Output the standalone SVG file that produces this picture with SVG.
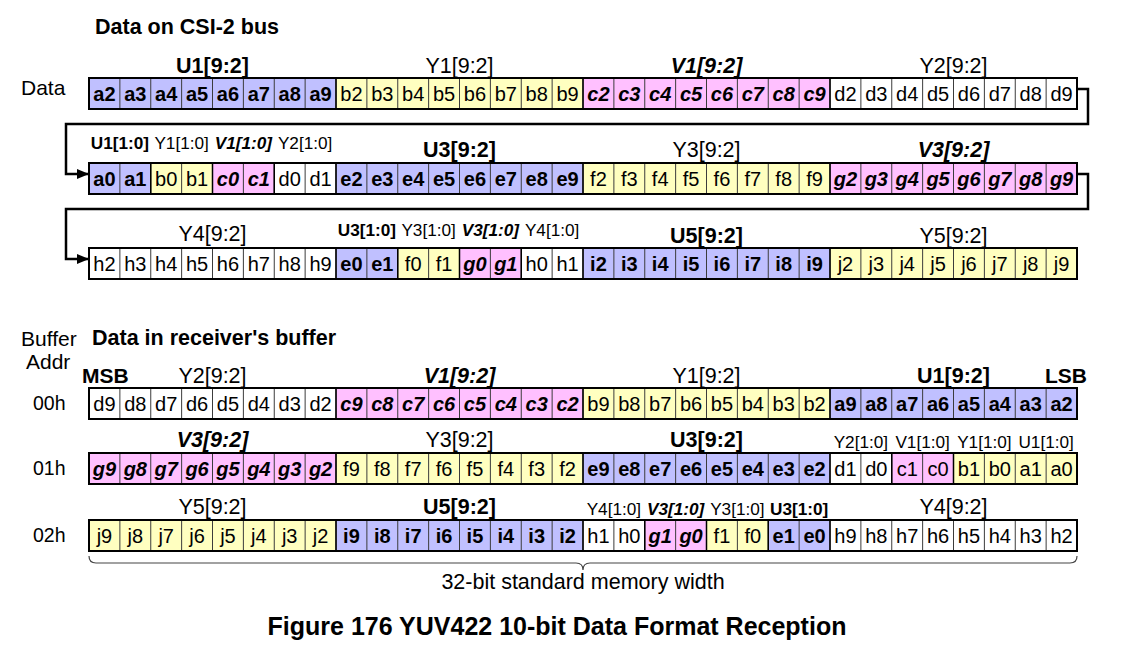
<svg xmlns="http://www.w3.org/2000/svg" xmlns:xlink="http://www.w3.org/1999/xlink" width="1128" height="669" viewBox="0 0 1128 669">
<style>
text { font-family: "Liberation Sans", Arial, sans-serif; fill:#000; }
.c text { font-size:20px; text-anchor:middle; }
.n { font-weight:normal; font-style:normal; }
.b { font-weight:bold; }
.bi { font-weight:bold; font-style:italic; }
.c text.lab { font-size:21.5px; }
.c text.sm { font-size:17.2px; }
.side { font-size:21px; }
.addr { font-size:19.5px; }
.blue { fill:#C0C0FF; }
.yel { fill:#FFFFC0; }
.pink { fill:#FFC0FF; }
.wht { fill:#FFFFFF; }
.grid { fill:none; stroke:#3c3c3c; stroke-width:1; }
.sep { fill:none; stroke:#000; stroke-width:1.5; }
.frame { fill:none; stroke:#000; stroke-width:2; }
.conn { fill:none; stroke:#000; stroke-width:2.5; }
.brace { fill:none; stroke:#444; stroke-width:1.2; }
</style>
<defs>
<marker id="arr" viewBox="0 0 12 10" refX="12" refY="5" markerWidth="12" markerHeight="10" markerUnits="userSpaceOnUse" orient="auto">
<path d="M0,0L12,5L0,10z" fill="#000"/>
</marker>
<path id="grid" class="grid" d="M30.875,0v31M61.75,0v31M92.625,0v31M123.5,0v31M154.375,0v31M185.25,0v31M216.125,0v31M247,0v31M277.875,0v31M308.75,0v31M339.625,0v31M370.5,0v31M401.375,0v31M432.25,0v31M463.125,0v31M494,0v31M524.875,0v31M555.75,0v31M586.625,0v31M617.5,0v31M648.375,0v31M679.25,0v31M710.125,0v31M741,0v31M771.875,0v31M802.75,0v31M833.625,0v31M864.5,0v31M895.375,0v31M926.25,0v31M957.125,0v31"/>
</defs>

<rect width="1128" height="669" fill="#fff"/>

<g id="titles">
<text x="95" y="34" class="b" font-size="21.5">Data on CSI-2 bus</text>
<text x="92" y="345" class="b" font-size="21.5">Data in receiver's buffer</text>
<text x="21" y="95" class="side">Data</text>
<text x="21" y="346" class="side">Buffer</text>
<text x="26" y="369" class="side">Addr</text>
<text x="33" y="410" class="addr">00h</text>
<text x="33" y="475" class="addr">01h</text>
<text x="33" y="542" class="addr">02h</text>
<text x="82" y="383" class="b" font-size="21">MSB</text>
<text x="1087" y="383" class="b" font-size="21" text-anchor="end">LSB</text>
</g>

<g id="connectors">
<path class="conn" d="M1077,89H1088V124H66V174H89" marker-end="url(#arr)"/>
<path class="conn" d="M1077,174H1088V209H66V259H89" marker-end="url(#arr)"/>
</g>

<!-- CSI row 1 -->
<g id="csi-row1" class="c" transform="translate(89,78)">
<rect x="0" width="247" height="31" class="blue"/>
<rect x="247" width="247" height="31" class="yel"/>
<rect x="494" width="247" height="31" class="pink"/>
<rect x="741" width="247" height="31" class="wht"/>
<use xlink:href="#grid"/>
<path class="sep" d="M247,0v31M494,0v31M741,0v31"/>
<rect width="988" height="31" class="frame"/>
<g class="b"><text x="15.44" y="22.5">a2</text><text x="46.31" y="22.5">a3</text><text x="77.19" y="22.5">a4</text><text x="108.06" y="22.5">a5</text><text x="138.94" y="22.5">a6</text><text x="169.81" y="22.5">a7</text><text x="200.69" y="22.5">a8</text><text x="231.56" y="22.5">a9</text></g>
<g class="n" transform="translate(247,0)"><text x="15.44" y="22.5">b2</text><text x="46.31" y="22.5">b3</text><text x="77.19" y="22.5">b4</text><text x="108.06" y="22.5">b5</text><text x="138.94" y="22.5">b6</text><text x="169.81" y="22.5">b7</text><text x="200.69" y="22.5">b8</text><text x="231.56" y="22.5">b9</text></g>
<g class="bi" transform="translate(494,0)"><text x="15.44" y="22.5">c2</text><text x="46.31" y="22.5">c3</text><text x="77.19" y="22.5">c4</text><text x="108.06" y="22.5">c5</text><text x="138.94" y="22.5">c6</text><text x="169.81" y="22.5">c7</text><text x="200.69" y="22.5">c8</text><text x="231.56" y="22.5">c9</text></g>
<g class="n" transform="translate(741,0)"><text x="15.44" y="22.5">d2</text><text x="46.31" y="22.5">d3</text><text x="77.19" y="22.5">d4</text><text x="108.06" y="22.5">d5</text><text x="138.94" y="22.5">d6</text><text x="169.81" y="22.5">d7</text><text x="200.69" y="22.5">d8</text><text x="231.56" y="22.5">d9</text></g>
<text x="123.5" y="-5" class="lab b">U1[9:2]</text>
<text x="370.5" y="-5" class="lab n">Y1[9:2]</text>
<text x="617.5" y="-5" class="lab bi">V1[9:2]</text>
<text x="864.5" y="-5" class="lab n">Y2[9:2]</text>
</g>

<!-- CSI row 2 -->
<g id="csi-row2" class="c" transform="translate(89,163)">
<rect x="0" width="61.75" height="31" class="blue"/>
<rect x="61.75" width="61.75" height="31" class="yel"/>
<rect x="123.5" width="61.75" height="31" class="pink"/>
<rect x="185.25" width="61.75" height="31" class="wht"/>
<rect x="247" width="247" height="31" class="blue"/>
<rect x="494" width="247" height="31" class="yel"/>
<rect x="741" width="247" height="31" class="pink"/>
<use xlink:href="#grid"/>
<path class="sep" d="M61.75,0v31M123.5,0v31M185.25,0v31M247,0v31M494,0v31M741,0v31"/>
<rect width="988" height="31" class="frame"/>
<text x="15.44" y="22.5" class="b">a0</text><text x="46.31" y="22.5" class="b">a1</text><text x="77.19" y="22.5" class="n">b0</text><text x="108.06" y="22.5" class="n">b1</text><text x="138.94" y="22.5" class="bi">c0</text><text x="169.81" y="22.5" class="bi">c1</text><text x="200.69" y="22.5" class="n">d0</text><text x="231.56" y="22.5" class="n">d1</text>
<g class="b" transform="translate(247,0)"><text x="15.44" y="22.5">e2</text><text x="46.31" y="22.5">e3</text><text x="77.19" y="22.5">e4</text><text x="108.06" y="22.5">e5</text><text x="138.94" y="22.5">e6</text><text x="169.81" y="22.5">e7</text><text x="200.69" y="22.5">e8</text><text x="231.56" y="22.5">e9</text></g>
<g class="n" transform="translate(494,0)"><text x="15.44" y="22.5">f2</text><text x="46.31" y="22.5">f3</text><text x="77.19" y="22.5">f4</text><text x="108.06" y="22.5">f5</text><text x="138.94" y="22.5">f6</text><text x="169.81" y="22.5">f7</text><text x="200.69" y="22.5">f8</text><text x="231.56" y="22.5">f9</text></g>
<g class="bi" transform="translate(741,0)"><text x="15.44" y="22.5">g2</text><text x="46.31" y="22.5">g3</text><text x="77.19" y="22.5">g4</text><text x="108.06" y="22.5">g5</text><text x="138.94" y="22.5">g6</text><text x="169.81" y="22.5">g7</text><text x="200.69" y="22.5">g8</text><text x="231.56" y="22.5">g9</text></g>
<text x="30.875" y="-14" class="sm b">U1[1:0]</text>
<text x="92.625" y="-14" class="sm n">Y1[1:0]</text>
<text x="154.375" y="-14" class="sm bi">V1[1:0]</text>
<text x="216.125" y="-14" class="sm n">Y2[1:0]</text>
<text x="370.5" y="-6" class="lab b">U3[9:2]</text>
<text x="617.5" y="-6" class="lab n">Y3[9:2]</text>
<text x="864.5" y="-6" class="lab bi">V3[9:2]</text>
</g>

<!-- CSI row 3 -->
<g id="csi-row3" class="c" transform="translate(89,248)">
<rect x="0" width="247" height="31" class="wht"/>
<rect x="247" width="61.75" height="31" class="blue"/>
<rect x="308.75" width="61.75" height="31" class="yel"/>
<rect x="370.5" width="61.75" height="31" class="pink"/>
<rect x="432.25" width="61.75" height="31" class="wht"/>
<rect x="494" width="247" height="31" class="blue"/>
<rect x="741" width="247" height="31" class="yel"/>
<use xlink:href="#grid"/>
<path class="sep" d="M247,0v31M308.75,0v31M370.5,0v31M432.25,0v31M494,0v31M741,0v31"/>
<rect width="988" height="31" class="frame"/>
<g class="n"><text x="15.44" y="22.5">h2</text><text x="46.31" y="22.5">h3</text><text x="77.19" y="22.5">h4</text><text x="108.06" y="22.5">h5</text><text x="138.94" y="22.5">h6</text><text x="169.81" y="22.5">h7</text><text x="200.69" y="22.5">h8</text><text x="231.56" y="22.5">h9</text></g>
<g transform="translate(247,0)"><text x="15.44" y="22.5" class="b">e0</text><text x="46.31" y="22.5" class="b">e1</text><text x="77.19" y="22.5" class="n">f0</text><text x="108.06" y="22.5" class="n">f1</text><text x="138.94" y="22.5" class="bi">g0</text><text x="169.81" y="22.5" class="bi">g1</text><text x="200.69" y="22.5" class="n">h0</text><text x="231.56" y="22.5" class="n">h1</text></g>
<g class="b" transform="translate(494,0)"><text x="15.44" y="22.5">i2</text><text x="46.31" y="22.5">i3</text><text x="77.19" y="22.5">i4</text><text x="108.06" y="22.5">i5</text><text x="138.94" y="22.5">i6</text><text x="169.81" y="22.5">i7</text><text x="200.69" y="22.5">i8</text><text x="231.56" y="22.5">i9</text></g>
<g class="n" transform="translate(741,0)"><text x="15.44" y="22.5">j2</text><text x="46.31" y="22.5">j3</text><text x="77.19" y="22.5">j4</text><text x="108.06" y="22.5">j5</text><text x="138.94" y="22.5">j6</text><text x="169.81" y="22.5">j7</text><text x="200.69" y="22.5">j8</text><text x="231.56" y="22.5">j9</text></g>
<text x="123.5" y="-7" class="lab n">Y4[9:2]</text>
<text x="277.875" y="-12" class="sm b">U3[1:0]</text>
<text x="339.625" y="-12" class="sm n">Y3[1:0]</text>
<text x="401.375" y="-12" class="sm bi">V3[1:0]</text>
<text x="463.125" y="-12" class="sm n">Y4[1:0]</text>
<text x="617.5" y="-5" class="lab b">U5[9:2]</text>
<text x="864.5" y="-5" class="lab n">Y5[9:2]</text>
</g>

<!-- Buffer 00h -->
<g id="buf-00h" class="c" transform="translate(89,388)">
<rect x="0" width="247" height="31" class="wht"/>
<rect x="247" width="247" height="31" class="pink"/>
<rect x="494" width="247" height="31" class="yel"/>
<rect x="741" width="247" height="31" class="blue"/>
<use xlink:href="#grid"/>
<path class="sep" d="M247,0v31M494,0v31M741,0v31"/>
<rect width="988" height="31" class="frame"/>
<g class="n"><text x="15.44" y="22.5">d9</text><text x="46.31" y="22.5">d8</text><text x="77.19" y="22.5">d7</text><text x="108.06" y="22.5">d6</text><text x="138.94" y="22.5">d5</text><text x="169.81" y="22.5">d4</text><text x="200.69" y="22.5">d3</text><text x="231.56" y="22.5">d2</text></g>
<g class="bi" transform="translate(247,0)"><text x="15.44" y="22.5">c9</text><text x="46.31" y="22.5">c8</text><text x="77.19" y="22.5">c7</text><text x="108.06" y="22.5">c6</text><text x="138.94" y="22.5">c5</text><text x="169.81" y="22.5">c4</text><text x="200.69" y="22.5">c3</text><text x="231.56" y="22.5">c2</text></g>
<g class="n" transform="translate(494,0)"><text x="15.44" y="22.5">b9</text><text x="46.31" y="22.5">b8</text><text x="77.19" y="22.5">b7</text><text x="108.06" y="22.5">b6</text><text x="138.94" y="22.5">b5</text><text x="169.81" y="22.5">b4</text><text x="200.69" y="22.5">b3</text><text x="231.56" y="22.5">b2</text></g>
<g class="b" transform="translate(741,0)"><text x="15.44" y="22.5">a9</text><text x="46.31" y="22.5">a8</text><text x="77.19" y="22.5">a7</text><text x="108.06" y="22.5">a6</text><text x="138.94" y="22.5">a5</text><text x="169.81" y="22.5">a4</text><text x="200.69" y="22.5">a3</text><text x="231.56" y="22.5">a2</text></g>
<text x="123.5" y="-5" class="lab n">Y2[9:2]</text>
<text x="370.5" y="-5" class="lab bi">V1[9:2]</text>
<text x="617.5" y="-5" class="lab n">Y1[9:2]</text>
<text x="864.5" y="-5" class="lab b">U1[9:2]</text>
</g>

<!-- Buffer 01h -->
<g id="buf-01h" class="c" transform="translate(89,453)">
<rect x="0" width="247" height="31" class="pink"/>
<rect x="247" width="247" height="31" class="yel"/>
<rect x="494" width="247" height="31" class="blue"/>
<rect x="741" width="61.75" height="31" class="wht"/>
<rect x="802.75" width="61.75" height="31" class="pink"/>
<rect x="864.5" width="123.5" height="31" class="yel"/>
<use xlink:href="#grid"/>
<path class="sep" d="M247,0v31M494,0v31M741,0v31M802.75,0v31M864.5,0v31"/>
<rect width="988" height="31" class="frame"/>
<g class="bi"><text x="15.44" y="22.5">g9</text><text x="46.31" y="22.5">g8</text><text x="77.19" y="22.5">g7</text><text x="108.06" y="22.5">g6</text><text x="138.94" y="22.5">g5</text><text x="169.81" y="22.5">g4</text><text x="200.69" y="22.5">g3</text><text x="231.56" y="22.5">g2</text></g>
<g class="n" transform="translate(247,0)"><text x="15.44" y="22.5">f9</text><text x="46.31" y="22.5">f8</text><text x="77.19" y="22.5">f7</text><text x="108.06" y="22.5">f6</text><text x="138.94" y="22.5">f5</text><text x="169.81" y="22.5">f4</text><text x="200.69" y="22.5">f3</text><text x="231.56" y="22.5">f2</text></g>
<g class="b" transform="translate(494,0)"><text x="15.44" y="22.5">e9</text><text x="46.31" y="22.5">e8</text><text x="77.19" y="22.5">e7</text><text x="108.06" y="22.5">e6</text><text x="138.94" y="22.5">e5</text><text x="169.81" y="22.5">e4</text><text x="200.69" y="22.5">e3</text><text x="231.56" y="22.5">e2</text></g>
<g class="n" transform="translate(741,0)"><text x="15.44" y="22.5">d1</text><text x="46.31" y="22.5">d0</text><text x="77.19" y="22.5">c1</text><text x="108.06" y="22.5">c0</text><text x="138.94" y="22.5">b1</text><text x="169.81" y="22.5">b0</text><text x="200.69" y="22.5">a1</text><text x="231.56" y="22.5">a0</text></g>
<text x="123.5" y="-6" class="lab bi">V3[9:2]</text>
<text x="370.5" y="-6" class="lab n">Y3[9:2]</text>
<text x="617.5" y="-6" class="lab b">U3[9:2]</text>
<text x="771.875" y="-5" class="sm n">Y2[1:0]</text>
<text x="833.625" y="-5" class="sm n">V1[1:0]</text>
<text x="895.375" y="-5" class="sm n">Y1[1:0]</text>
<text x="957.125" y="-5" class="sm n">U1[1:0]</text>
</g>

<!-- Buffer 02h -->
<g id="buf-02h" class="c" transform="translate(89,520)">
<rect x="0" width="247" height="31" class="yel"/>
<rect x="247" width="247" height="31" class="blue"/>
<rect x="494" width="61.75" height="31" class="wht"/>
<rect x="555.75" width="61.75" height="31" class="pink"/>
<rect x="617.5" width="61.75" height="31" class="yel"/>
<rect x="679.25" width="61.75" height="31" class="blue"/>
<rect x="741" width="247" height="31" class="wht"/>
<use xlink:href="#grid"/>
<path class="sep" d="M247,0v31M494,0v31M555.75,0v31M617.5,0v31M679.25,0v31M741,0v31"/>
<rect width="988" height="31" class="frame"/>
<g class="n"><text x="15.44" y="22.5">j9</text><text x="46.31" y="22.5">j8</text><text x="77.19" y="22.5">j7</text><text x="108.06" y="22.5">j6</text><text x="138.94" y="22.5">j5</text><text x="169.81" y="22.5">j4</text><text x="200.69" y="22.5">j3</text><text x="231.56" y="22.5">j2</text></g>
<g class="b" transform="translate(247,0)"><text x="15.44" y="22.5">i9</text><text x="46.31" y="22.5">i8</text><text x="77.19" y="22.5">i7</text><text x="108.06" y="22.5">i6</text><text x="138.94" y="22.5">i5</text><text x="169.81" y="22.5">i4</text><text x="200.69" y="22.5">i3</text><text x="231.56" y="22.5">i2</text></g>
<g transform="translate(494,0)"><text x="15.44" y="22.5" class="n">h1</text><text x="46.31" y="22.5" class="n">h0</text><text x="77.19" y="22.5" class="bi">g1</text><text x="108.06" y="22.5" class="bi">g0</text><text x="138.94" y="22.5" class="n">f1</text><text x="169.81" y="22.5" class="n">f0</text><text x="200.69" y="22.5" class="b">e1</text><text x="231.56" y="22.5" class="b">e0</text></g>
<g class="n" transform="translate(741,0)"><text x="15.44" y="22.5">h9</text><text x="46.31" y="22.5">h8</text><text x="77.19" y="22.5">h7</text><text x="108.06" y="22.5">h6</text><text x="138.94" y="22.5">h5</text><text x="169.81" y="22.5">h4</text><text x="200.69" y="22.5">h3</text><text x="231.56" y="22.5">h2</text></g>
<text x="123.5" y="-6" class="lab n">Y5[9:2]</text>
<text x="370.5" y="-6" class="lab b">U5[9:2]</text>
<text x="524.875" y="-5" class="sm n">Y4[1:0]</text>
<text x="586.625" y="-5" class="sm bi">V3[1:0]</text>
<text x="648.375" y="-5" class="sm n">Y3[1:0]</text>
<text x="710.125" y="-5" class="sm b">U3[1:0]</text>
<text x="864.5" y="-6" class="lab n">Y4[9:2]</text>
</g>

<g id="width-brace">
<path class="brace" d="M89,556Q89,563 96,563H576Q583,563 583,570Q583,563 590,563H1070Q1077,563 1077,556"/>
<text x="583" y="589" font-size="21.5" text-anchor="middle">32-bit standard memory width</text>
</g>

<text id="caption" x="557" y="635" class="b" font-size="25" text-anchor="middle">Figure 176 YUV422 10-bit Data Format Reception</text>
</svg>
